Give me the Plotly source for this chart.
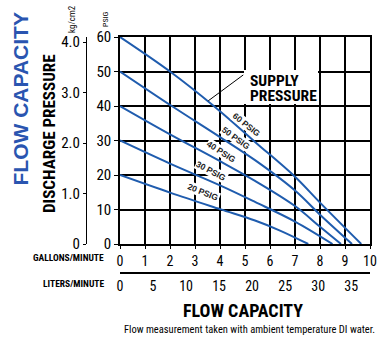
import plotly.graph_objects as go

# ---- data ----
gpm_60 = [0, 2.0, 3.75, 5.4, 7.0, 8.0, 9.65]
psi_60 = [60, 50, 40, 29.6, 19.5, 12.0, 0]
gpm_50 = [0, 2.07, 4.0, 5.4, 7.0, 8.0, 9.28]
psi_50 = [50, 40, 31.0, 24.3, 15.5, 8.5, 0]
gpm_40 = [0, 2.0, 4.0, 5.4, 7.0, 8.0, 8.84]
psi_40 = [40, 31.8, 24.0, 18.3, 11.0, 5.0, 0]
gpm_30 = [0, 2.0, 4.0, 5.4, 7.0, 8.5]
psi_30 = [30, 23.3, 17.0, 12.2, 6.5, 0]
gpm_20 = [0, 2.0, 4.0, 5.4, 6.4, 7.53]
psi_20 = [20, 14.9, 10.1, 6.8, 3.9, 0]

series_names = ["60 PSIG", "50 PSIG", "40 PSIG", "30 PSIG", "20 PSIG"]
series_x = [gpm_60, gpm_50, gpm_40, gpm_30, gpm_20]
series_y = [psi_60, psi_50, psi_40, psi_30, psi_20]
label_x = [5.07, 4.64, 4.07, 3.65, 3.32]
label_y = [34.4, 30.8, 26.7, 21.3, 15.2]
label_angle = [38, 36, 33, 28, 22]

gpm_ticks = list(range(0, 11))
psi_ticks = list(range(0, 70, 10))
lpm_ticks = [0, 5, 10, 15, 20, 25, 30, 35]
kg_ticks = [0, 1, 2, 3, 4]
kg_labels = ["0", "1.0", "2.0", "3.0", "4.0"]

# ---- layout geometry (pixels) ----
W, H = 384, 339
L, R, T, B = 86, 375, 37, 273
PW, PH = R - L, B - T
X0, X1 = 120, 370      # plot left/right
Y0, Y1 = 244, 37       # plot bottom/top

def px(xp):
    return (xp - L) / PW

def py(yp):
    return (B - yp) / PH

KG_PX = 50.5           # pixels per kg/cm2 on the left scale

NARROW = "Liberation Sans Narrow, Arial Narrow, Roboto Condensed, sans-serif"
BLUE_LINE = "#1f5cae"
BLUE_TEXT = "#2a55b0"

fig = go.Figure()
for xs, ys, nm in zip(series_x, series_y, series_names):
    fig.add_trace(go.Scatter(x=xs, y=ys, mode="lines", name=nm,
                             line=dict(color=BLUE_LINE, width=2),
                             line_shape="spline", hoverinfo="skip"))

# invisible trace to activate the secondary scales
fig.add_trace(go.Scatter(x=[0], y=[0], xaxis="x2", yaxis="y2", mode="markers",
                         marker=dict(opacity=0), hoverinfo="skip", showlegend=False))

xdom = [px(X0), px(X1)]
ydom = [py(Y0), 1]

fig.update_layout(
    width=W, height=H,
    margin=dict(l=L, r=W - R, t=T, b=H - B, pad=0, autoexpand=False),
    paper_bgcolor="white", plot_bgcolor="white",
    showlegend=False,
    xaxis=dict(domain=xdom, range=[0, 10], tickvals=gpm_ticks,
               showgrid=True, gridcolor="black", gridwidth=1.5,
               showline=True, linecolor="black", linewidth=1.5, mirror=True,
               zeroline=False, ticks="outside", ticklen=3, tickcolor="black",
               tickfont=dict(family=NARROW, size=14, color="black"),
               anchor="y", automargin=False),
    yaxis=dict(domain=ydom, range=[0, 60], tickvals=psi_ticks,
               showgrid=True, gridcolor="black", gridwidth=1.5,
               showline=True, linecolor="black", linewidth=1.5, mirror=True,
               zeroline=False, ticks="outside", ticklen=4, tickcolor="black",
               tickfont=dict(family=NARROW, size=15, color="black"),
               anchor="x", automargin=False),
    xaxis2=dict(range=[0, 10 * 3.785], tickvals=lpm_ticks, overlaying="x",
                anchor="free", position=0, side="bottom", showgrid=False,
                zeroline=False, showline=True, linecolor="black", linewidth=1.5,
                ticks="", automargin=False,
                tickfont=dict(family=NARROW, size=14, color="black")),
    yaxis2=dict(range=[0, (Y0 - Y1) / KG_PX],
                tickvals=kg_ticks, ticktext=kg_labels, overlaying="y",
                anchor="free", position=0, side="left", showgrid=False,
                zeroline=False, showline=True, linecolor="black", linewidth=1.2,
                ticks="outside", ticklen=3, tickcolor="black", automargin=False,
                tickfont=dict(family=NARROW, size=15, color="black")),
)

# white box behind the "SUPPLY PRESSURE" callout and its leader line
fig.add_shape(type="rect", xref="x", yref="y", x0=4.96, x1=7.92, y0=40.6, y1=50.4,
              fillcolor="white", line=dict(width=0), layer="above")
fig.add_shape(type="line", xref="x", yref="y", x0=4.93, y0=49.0, x1=3.53, y1=41.5,
              line=dict(color="black", width=1), layer="above")

ann = []
for nm, lx, ly, la in zip(series_names, label_x, label_y, label_angle):
    ann.append(dict(x=lx, y=ly, xref="x", yref="y", text="<b>%s</b>" % nm,
                    textangle=la, showarrow=False, bgcolor="white", borderpad=0,
                    font=dict(family="Liberation Sans, Arial, sans-serif", size=8.5, color="#222")))
ann.append(dict(x=(247.7 - X0) / 25, y=(Y0 - 80.5) / 3.45, xref="x", yref="y",
                xanchor="left", text="<b>SUPPLY</b>", showarrow=False,
                font=dict(family=NARROW, size=15.5, color="black")))
ann.append(dict(x=(247.7 - X0) / 25, y=(Y0 - 96.0) / 3.45, xref="x", yref="y",
                xanchor="left", text="<b>PRESSURE</b>", showarrow=False,
                font=dict(family=NARROW, size=15.5, color="black")))

paper_text = [
    ("<b>FLOW CAPACITY</b>", 19.5, 99, -90, "center", "Liberation Sans, Arial, sans-serif", 21, BLUE_TEXT),
    ("<b>DISCHARGE PRESSURE</b>", 48.5, 133.5, -90, "center", NARROW, 17, "black"),
    ("kg/cm2", 71.5, 19.5, -90, "center", NARROW, 9, "black"),
    ("PSIG", 105.5, 19.5, -90, "center", NARROW, 8, "black"),
    ("<b>GALLONS/MINUTE</b>", 106, 257.5, 0, "right", NARROW, 9.5, "black"),
    ("<b>LITERS/MINUTE</b>", 106, 283.3, 0, "right", NARROW, 9.5, "black"),
    ("<b>FLOW CAPACITY</b>", 243, 310, 0, "center", NARROW, 18, "black"),
    ("Flow measurement taken with ambient temperature DI water.", 377, 329.3, 0, "right", NARROW, 10.5, "black"),
]
for txt, xp, yp, ang, xa, fam, sz, col in paper_text:
    ann.append(dict(x=px(xp), y=py(yp), xref="paper", yref="paper", text=txt,
                    textangle=ang, xanchor=xa, yanchor="middle", showarrow=False,
                    font=dict(family=fam, size=sz, color=col)))

fig.update_layout(annotations=ann)
fig.write_html("out.html")
